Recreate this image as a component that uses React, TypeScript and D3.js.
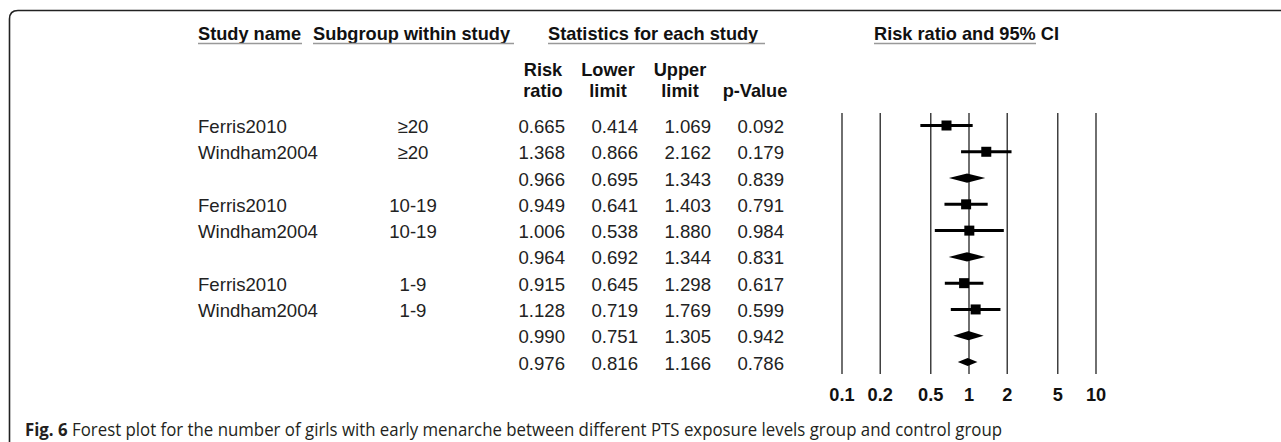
import React from 'react';
import * as d3 from 'd3';

// table rows, top to bottom
const studyNames = ['Ferris2010', 'Windham2004', '', 'Ferris2010', 'Windham2004', '', 'Ferris2010', 'Windham2004', '', ''];
const subgroups = ['≥20', '≥20', '', '10-19', '10-19', '', '1-9', '1-9', '', ''];
const riskRatio = [0.665, 1.368, 0.966, 0.949, 1.006, 0.964, 0.915, 1.128, 0.990, 0.976];
const lowerLimit = [0.414, 0.866, 0.695, 0.641, 0.538, 0.692, 0.645, 0.719, 0.751, 0.816];
const upperLimit = [1.069, 2.162, 1.343, 1.403, 1.880, 1.344, 1.298, 1.769, 1.305, 1.166];
const pValues = [0.092, 0.179, 0.839, 0.791, 0.984, 0.831, 0.617, 0.599, 0.942, 0.786];
const rowKinds = ['study', 'study', 'pooled', 'study', 'study', 'pooled', 'study', 'study', 'pooled', 'pooled'];
const axisTicks = [0.1, 0.2, 0.5, 1, 2, 5, 10];

const W = 1281;
const H = 442;
const FONT = '"Liberation Sans", Arial, sans-serif';

const App = () => {
  // log axis for the forest panel
  const x = d3.scaleLog().domain([0.1, 10]).range([842, 1096]);
  // row centres
  const y = d3.scalePoint<number>().domain(d3.range(riskRatio.length)).range([125.5, 362]);

  const fmt = d3.format('.3f');
  const colRight = [565, 638, 711, 784];
  const cols = [riskRatio, lowerLimit, upperLimit, pValues];

  const headers = [
    { text: 'Study name', x: 198, end: 302 },
    { text: 'Subgroup within study', x: 313, end: 514 },
    { text: 'Statistics for each study', x: 548, end: 765 },
    { text: 'Risk ratio and 95% CI', x: 874, end: 1036 },
  ];
  const subHeaders = [
    ['Risk', 'ratio', 543],
    ['Lower', 'limit', 608],
    ['Upper', 'limit', 680],
    ['', 'p-Value', 755],
  ];

  return (
    <svg width={W} height={H} style={{ position: 'absolute', left: 0, top: 0, background: '#fff' }}>
      {/* figure frame */}
      <path d={`M9.5,${H} L9.5,19 Q9.5,10.5 18,10.5 L${W},10.5`} fill="none" stroke="#222" strokeWidth={1.6} />

      {/* column headers */}
      {headers.map((h, i) => (
        <g key={i}>
          <text x={h.x} y={40} fontFamily={FONT} fontSize={18.2} fontWeight="bold" fill="#111">{h.text}</text>
          <line x1={h.x} x2={h.end} y1={43.5} y2={43.5} stroke="#999" strokeWidth={1.6} />
        </g>
      ))}
      {subHeaders.map((s, i) => (
        <g key={i} fontFamily={FONT} fontSize={18.2} fontWeight="bold" fill="#111" textAnchor="middle">
          <text x={s[2] as number} y={76}>{s[0]}</text>
          <text x={s[2] as number} y={97}>{s[1]}</text>
        </g>
      ))}

      {/* table body */}
      {riskRatio.map((_, i) => {
        const ty = (y(i) as number) + 7.5;
        return (
          <g key={i} fontFamily={FONT} fontSize={18.6} fill="#222">
            <text x={198} y={ty}>{studyNames[i]}</text>
            <text x={413} y={ty} textAnchor="middle">{subgroups[i]}</text>
            {cols.map((c, j) => (
              <text key={j} x={colRight[j]} y={ty} textAnchor="end">{fmt(c[i])}</text>
            ))}
          </g>
        );
      })}

      {/* reference lines */}
      {axisTicks.map((t) => (
        <line key={t} x1={x(t)} x2={x(t)} y1={113} y2={374} stroke="#333" strokeWidth={1.4} />
      ))}
      {axisTicks.map((t) => (
        <text key={t} x={x(t)} y={401} textAnchor="middle" fontFamily={FONT} fontSize={18.2} fontWeight="bold" fill="#111">{t}</text>
      ))}

      {/* estimates */}
      {riskRatio.map((rr, i) => {
        const cy = y(i) as number;
        if (rowKinds[i] === 'pooled') {
          const h = i === riskRatio.length - 1 ? 4 : 4.6;
          return (
            <path key={i}
              d={`M${x(lowerLimit[i])},${cy} L${x(rr)},${cy - h} L${x(upperLimit[i])},${cy} L${x(rr)},${cy + h} Z`}
              fill="#000" />
          );
        }
        return (
          <g key={i}>
            <line x1={x(lowerLimit[i])} x2={x(upperLimit[i])} y1={cy} y2={cy} stroke="#000" strokeWidth={3} />
            <rect x={x(rr) - 5} y={cy - 5} width={10} height={10} fill="#000" />
          </g>
        );
      })}

      {/* caption */}
      <text x={25} y={436} fontFamily='"Open Sans", sans-serif' fontSize={17.5} fill="#231f20"
        textLength={977} lengthAdjust="spacingAndGlyphs">
        <tspan fontWeight="bold">Fig. 6</tspan>
        <tspan> Forest plot for the number of girls with early menarche between different PTS exposure levels group and control group</tspan>
      </text>
    </svg>
  );
};

export default App;
